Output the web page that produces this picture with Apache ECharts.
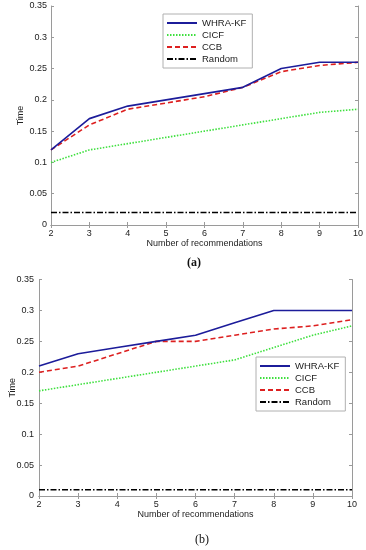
<!DOCTYPE html>
<html><head><meta charset="utf-8">
<script src="https://cdn.jsdelivr.net/npm/echarts@6/dist/echarts.min.js"></script>
<style>html,body{margin:0;padding:0;background:#fff}#c{width:366px;height:550px}</style>
</head><body><div id="c"></div>
<script>
var recs = [2, 3, 4, 5, 6, 7, 8, 9, 10];
var seriesNames = ['WHRA-KF', 'CICF', 'CCB', 'Random'];
// Panel (a)
var aWHRA = [0.12, 0.17, 0.19, 0.20, 0.21, 0.22, 0.25, 0.26, 0.26];
var aCICF = [0.10, 0.12, 0.13, 0.14, 0.15, 0.16, 0.17, 0.18, 0.185];
var aCCB = [0.12, 0.16, 0.185, 0.195, 0.205, 0.22, 0.245, 0.255, 0.26];
var aRandom = [0.02, 0.02, 0.02, 0.02, 0.02, 0.02, 0.02, 0.02, 0.02];
// Panel (b)
var bWHRA = [0.21, 0.23, 0.24, 0.25, 0.26, 0.28, 0.30, 0.30, 0.30];
var bCICF = [0.17, 0.18, 0.19, 0.20, 0.21, 0.22, 0.24, 0.26, 0.275];
var bCCB = [0.20, 0.21, 0.23, 0.25, 0.25, 0.26, 0.27, 0.275, 0.285];
var bRandom = [0.01, 0.01, 0.01, 0.01, 0.01, 0.01, 0.01, 0.01, 0.01];

var styles = [
  {color: '#1c1c9a', type: 'solid', width: 1.6},
  {color: '#3ee03e', type: [1.5, 1.5], width: 1.6},
  {color: '#dd2020', type: [5, 3], width: 1.6},
  {color: '#000000', type: [6, 2, 1.5, 2], width: 1.4}
];
function pairs(v) { return recs.map(function (x, i) { return [x, v[i]]; }); }

var font = 'Liberation Sans, Arial, sans-serif';
var boxColor = '#9a9a9a';
function xAxes(gi, nameGap) {
  return [{
    gridIndex: gi, type: 'value', min: 2, max: 10, interval: 1,
    name: 'Number of recommendations', nameLocation: 'middle', nameGap: nameGap,
    nameTextStyle: {fontFamily: font, fontSize: 9, color: '#222'},
    axisLine: {show: true, lineStyle: {color: boxColor}},
    axisTick: {show: true, inside: true, length: 3, lineStyle: {color: boxColor}},
    axisLabel: {fontFamily: font, fontSize: 9, color: '#222', margin: 4},
    splitLine: {show: false}
  }, {
    gridIndex: gi, type: 'value', min: 2, max: 10, interval: 1, position: 'top',
    axisLine: {show: true, lineStyle: {color: boxColor}},
    axisTick: {show: true, inside: true, length: 3, lineStyle: {color: boxColor}},
    axisLabel: {show: false}, splitLine: {show: false}
  }];
}
function yAxes(gi, nameGap, margin) {
  return [{
    gridIndex: gi, type: 'value', min: 0, max: 0.35, interval: 0.05,
    name: 'Time', nameLocation: 'middle', nameGap: nameGap, nameMoveOverlap: false,
    nameTextStyle: {fontFamily: font, fontSize: 9, color: '#222'},
    axisLine: {show: true, lineStyle: {color: boxColor}},
    axisTick: {show: true, inside: true, length: 3, lineStyle: {color: boxColor}},
    axisLabel: {fontFamily: font, fontSize: 9, color: '#222', margin: margin},
    splitLine: {show: false}
  }, {
    gridIndex: gi, type: 'value', min: 0, max: 0.35, interval: 0.05, position: 'right',
    axisLine: {show: true, lineStyle: {color: boxColor}},
    axisTick: {show: true, inside: true, length: 3, lineStyle: {color: boxColor}},
    axisLabel: {show: false}, splitLine: {show: false}
  }];
}
var dataA = [aWHRA, aCICF, aCCB, aRandom];
var dataB = [bWHRA, bCICF, bCCB, bRandom];
var series = [];
[dataA, dataB].forEach(function (set, gi) {
  set.forEach(function (v, k) {
    series.push({
      name: seriesNames[k], type: 'line', xAxisIndex: gi * 2, yAxisIndex: gi * 2,
      data: pairs(v), symbol: 'none', lineStyle: styles[k], itemStyle: {color: styles[k].color},
      z: 10 - k, animation: false
    });
  });
});
function makeLegend(left, top) {
  return {
    left: left, top: top,
    orient: 'vertical', data: seriesNames, itemWidth: 30, itemHeight: 9, itemGap: 2,
    itemStyle: {opacity: 0, borderWidth: 0},
    backgroundColor: '#fff', borderColor: '#b0b0b0', borderWidth: 1,
    padding: [4, 6, 4, 3], textStyle: {fontFamily: font, fontSize: 9.5, color: '#222'},
    selectedMode: false
  };
}
var option = {
  backgroundColor: '#fff',
  animation: false,
  grid: [
    {left: 51, top: 6, width: 308, height: 219},
    {left: 39, top: 279.5, width: 313, height: 216.5}
  ],
  xAxis: xAxes(0, 14).concat(xAxes(1, 14)),
  yAxis: yAxes(0, 26, 4).concat(yAxes(1, 22, 5)),
  legend: [makeLegend(163, 14), makeLegend(256, 357)],
  graphic: [
    {type: 'text', left: 187, top: 257, style: {text: '(a)', font: 'bold 12px Liberation Serif, Times New Roman, serif', fill: '#111'}},
    {type: 'text', left: 195, top: 534, style: {text: '(b)', font: '12px Liberation Serif, Times New Roman, serif', fill: '#111'}}
  ],
  series: series
};
var chart = echarts.init(document.getElementById('c'), null, {renderer: 'canvas'});
chart.setOption(option);
</script></body></html>
